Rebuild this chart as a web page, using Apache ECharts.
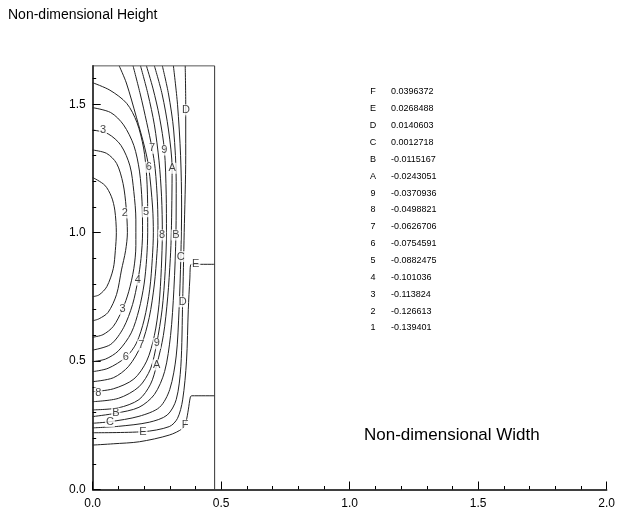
<!DOCTYPE html>
<html>
<head>
<meta charset="utf-8">
<script src="https://cdn.jsdelivr.net/npm/echarts@6/dist/echarts.min.js"></script>
<style>
  html, body { margin: 0; padding: 0; background: #fff; }
  #chart { width: 618px; height: 516px; }
</style>
</head>
<body>
<div id="chart"></div>
<script>
const FONT = "Liberation Sans, Arial, sans-serif";

// contour level table
const levelKeys = ["F", "E", "D", "C", "B", "A", "9", "8", "7", "6", "5", "4", "3", "2", "1"];
const levelValues = ["0.0396372", "0.0268488", "0.0140603", "0.0012718", "-0.0115167",
  "-0.0243051", "-0.0370936", "-0.0498821", "-0.0626706", "-0.0754591", "-0.0882475",
  "-0.101036", "-0.113824", "-0.126613", "-0.139401"];

// domain boundary
const domainW = 0.4745;
const domainH = 1.65;

// axis ticks
const yMajor = [0, 0.5, 1.0, 1.5];
const yMinor = [0.1, 0.2, 0.3, 0.4, 0.6, 0.7, 0.8, 0.9, 1.1, 1.2, 1.3, 1.4, 1.6];

// contour lines
const c1 = [[0, 1.215], [0.047, 1.185], [0.073, 1.14], [0.086, 1.088], [0.092, 1.0], [0.088, 0.93],
  [0.08, 0.86], [0.055, 0.79], [0.025, 0.758], [0, 0.751]];
const c2 = [[0, 1.322], [0.054, 1.309], [0.093, 1.27], [0.118, 1.192], [0.13, 1.1], [0.135, 1.0],
  [0.128, 0.93], [0.112, 0.855], [0.093, 0.76], [0.06, 0.69], [0.025, 0.665], [0, 0.657]];
const c3 = [[0, 1.40], [0.06, 1.385], [0.11, 1.34], [0.145, 1.26], [0.16, 1.16], [0.168, 1.05],
  [0.168, 0.95], [0.16, 0.86], [0.14, 0.77], [0.116, 0.702], [0.08, 0.635], [0.04, 0.603], [0, 0.593]];
const c4 = [[0, 1.487], [0.07, 1.468], [0.12, 1.42], [0.16, 1.34], [0.182, 1.24], [0.192, 1.12],
  [0.194, 1.0], [0.188, 0.9], [0.176, 0.816], [0.155, 0.72], [0.12, 0.63], [0.07, 0.565], [0, 0.543]];
const c5 = [[0, 1.584], [0.067, 1.555], [0.132, 1.504], [0.172, 1.43], [0.198, 1.33], [0.21, 1.22],
  [0.214, 1.08], [0.214, 1.0], [0.21, 0.9], [0.2, 0.8], [0.18, 0.7], [0.15, 0.61], [0.1, 0.54],
  [0.05, 0.508], [0, 0.498]];
const c6 = [[0, 0.459], [0.06, 0.472], [0.129, 0.515], [0.17, 0.57], [0.2, 0.66], [0.222, 0.78],
  [0.232, 0.9], [0.236, 1.0], [0.233, 1.1], [0.218, 1.255], [0.202, 1.333], [0.17, 1.45],
  [0.131, 1.583], [0.103, 1.65]];
const c7 = [[0, 0.42], [0.08, 0.435], [0.14, 0.48], [0.189, 0.563], [0.22, 0.67], [0.24, 0.8],
  [0.25, 0.92], [0.254, 1.0], [0.252, 1.12], [0.243, 1.25], [0.231, 1.329], [0.21, 1.43],
  [0.185, 1.54], [0.157, 1.65]];
const c8 = [[0, 0.381], [0.08, 0.392], [0.16, 0.43], [0.21, 0.5], [0.24, 0.6], [0.258, 0.72],
  [0.267, 0.86], [0.271, 1.0], [0.268, 1.14], [0.258, 1.28], [0.24, 1.42], [0.215, 1.54], [0.186, 1.65]];
const c9 = [[0, 0.342], [0.1, 0.355], [0.18, 0.4], [0.225, 0.47], [0.249, 0.569], [0.27, 0.7],
  [0.282, 0.85], [0.287, 1.0], [0.286, 1.15], [0.279, 1.322], [0.26, 1.45], [0.235, 1.56], [0.209, 1.65]];
const cA = [[0, 0.31], [0.1, 0.318], [0.18, 0.35], [0.225, 0.41], [0.249, 0.485], [0.275, 0.6],
  [0.292, 0.75], [0.302, 0.9], [0.306, 1.0], [0.309, 1.251], [0.295, 1.4], [0.27, 1.54], [0.24, 1.65]];
const cB = [[0, 0.284], [0.09, 0.297], [0.18, 0.32], [0.24, 0.37], [0.28, 0.46], [0.303, 0.6],
  [0.316, 0.78], [0.324, 1.0], [0.325, 1.2], [0.315, 1.4], [0.295, 1.54], [0.271, 1.65]];
const cC = [[0, 0.258], [0.067, 0.264], [0.18, 0.285], [0.26, 0.32], [0.3, 0.39], [0.325, 0.52],
  [0.336, 0.7], [0.343, 0.907], [0.346, 1.1], [0.342, 1.3], [0.33, 1.5], [0.314, 1.65]];
const cD = [[0, 0.24], [0.1, 0.246], [0.22, 0.262], [0.29, 0.29], [0.325, 0.35], [0.343, 0.48],
  [0.35, 0.731], [0.356, 1.0], [0.362, 1.3], [0.362, 1.5], [0.36, 1.65]];
const cE = [[0, 0.221], [0.195, 0.225], [0.298, 0.245], [0.33, 0.277], [0.35, 0.349], [0.365, 0.5],
  [0.372, 0.7], [0.378, 0.82], [0.383, 0.877], [0.4745, 0.877]];
const cF = [[0, 0.173], [0.08, 0.178], [0.182, 0.186], [0.298, 0.212], [0.35, 0.238], [0.363, 0.264],
  [0.372, 0.31], [0.38, 0.36], [0.385, 0.365], [0.4745, 0.365]];

// inline contour labels
const labelKeys = ["3", "2", "5", "6", "7", "9", "A", "8", "B", "C", "D", "E",
  "4", "3", "D", "7", "9", "6", "A", "8", "B", "C", "E", "F"];
const labelPoints = [[0.04, 1.40], [0.125, 1.077], [0.208, 1.082], [0.218, 1.255], [0.231, 1.329],
  [0.279, 1.322], [0.309, 1.251], [0.270, 0.991], [0.324, 0.991], [0.343, 0.907], [0.363, 1.478],
  [0.401, 0.877], [0.176, 0.816], [0.116, 0.702], [0.350, 0.731], [0.189, 0.563], [0.249, 0.569],
  [0.129, 0.515], [0.249, 0.485], [0.022, 0.377], [0.09, 0.297], [0.067, 0.264], [0.195, 0.225],
  [0.360, 0.251]];

const contours = [["1", c1], ["2", c2], ["3", c3], ["4", c4], ["5", c5], ["6", c6], ["7", c7],
  ["8", c8], ["9", c9], ["A", cA], ["B", cB], ["C", cC], ["D", cD], ["E", cE], ["F", cF]];

const chart = echarts.init(document.getElementById("chart"));

const contourSeries = contours.map(([key, pts]) => ({
  name: key,
  type: "line",
  data: pts,
  showSymbol: false,
  smooth: 0.3,
  silent: true,
  lineStyle: { color: "#222", width: 1 },
  z: 2
}));

const legendTexts = [];
levelKeys.forEach((k, i) => {
  const y = 92 + 16.85 * i;
  legendTexts.push({ type: "text", x: 373, y: y,
    style: { text: k, fill: "#000", font: "9px " + FONT, textAlign: "center", textVerticalAlign: "middle" } });
  legendTexts.push({ type: "text", x: 391, y: y,
    style: { text: levelValues[i], fill: "#000", font: "9px " + FONT, textAlign: "left", textVerticalAlign: "middle" } });
});

const option = {
  animation: false,
  textStyle: { fontFamily: FONT },
  grid: { left: 92.7, top: 65.8, width: 518.4, height: 423.7 },
  xAxis: {
    type: "value",
    min: 0,
    max: 2,
    interval: 0.5,
    axisLine: { show: true, onZero: false, lineStyle: { color: "#000", width: 1.5 } },
    axisTick: { show: true, inside: true, length: 8, lineStyle: { color: "#000" } },
    minorTick: { show: true, splitNumber: 5, length: 3.5, lineStyle: { color: "#000" } },
    splitLine: { show: false },
    axisLabel: { formatter: v => v.toFixed(1), fontSize: 12, color: "#000", margin: 8 }
  },
  yAxis: [
    {
      type: "value",
      position: "left",
      min: 0,
      max: domainH,
      axisLine: { show: true, onZero: false, lineStyle: { color: "#000", width: 1.5 } },
      axisTick: { show: true, inside: true, length: 8, customValues: yMajor, lineStyle: { color: "#000" } },
      splitLine: { show: false },
      axisLabel: { customValues: yMajor, formatter: v => v.toFixed(1), fontSize: 12, color: "#000", margin: 7 }
    },
    {
      type: "value",
      position: "left",
      min: 0,
      max: domainH,
      axisLine: { show: false },
      axisTick: { show: true, inside: true, length: 3.5, customValues: yMinor, lineStyle: { color: "#000" } },
      splitLine: { show: false },
      axisLabel: { show: false }
    }
  ],
  series: [
    ...contourSeries,
    {
      name: "boundary",
      type: "line",
      data: [[0, domainH], [domainW, domainH], [domainW, 0]],
      showSymbol: false,
      silent: true,
      lineStyle: { color: "#333", width: 1 },
      z: 3
    },
    {
      name: "labels",
      type: "scatter",
      data: labelPoints.map((p, i) => ({ value: p, name: labelKeys[i] })),
      symbolSize: 1,
      itemStyle: { color: "rgba(0,0,0,0)" },
      silent: true,
      label: {
        show: true,
        position: "inside",
        formatter: p => p.name,
        fontSize: 11,
        color: "#111",
        backgroundColor: "#fff",
        padding: [0, 1]
      },
      z: 5
    }
  ],
  graphic: [
    { type: "text", x: 8, y: 15,
      style: { text: "Non-dimensional Height", fill: "#000", font: "14px " + FONT, textVerticalAlign: "middle" } },
    { type: "text", x: 364, y: 435.5,
      style: { text: "Non-dimensional Width", fill: "#000", font: "17px " + FONT, textVerticalAlign: "middle" } },
    ...legendTexts
  ]
};

chart.setOption(option);
</script>
</body>
</html>
